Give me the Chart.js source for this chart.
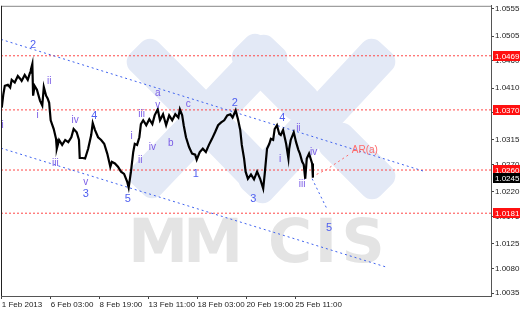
<!DOCTYPE html>
<html>
<head>
<meta charset="utf-8">
<script src="https://cdn.jsdelivr.net/npm/chart.js@4.4.0/dist/chart.umd.min.js"></script>
<style>
  html, body { margin: 0; padding: 0; background: #fff; }
</style>
</head>
<body>
<canvas id="chart" width="520" height="310"></canvas>
<script>
// H1 bars counted from 1 Feb 2013 12:00 (trading hours only)
const barHours = [0,2,4,8,11,13,17,21,24,26,30,34,37,38,40,41,43,46,50,53,55,58,60,62,64,68,71,72,75,79,83,87,91,94,98,101,102,106,109,113,117,119,122,126,130,134,138,142,144,148,152,156,160,164,166,169,172,174,177,180,182,185,189,193,197,200,204,207,211,215,219,223,227,231,233,236,238,241,245,249,253,255,259,263,267,271,275,279,283,287,291,295,299,302,306,309,312,314,317,319,322,326,330,334,338,342,344,347,350,352,355,357,360,363,365,368,372,375,376,378,382,385,388,390,393,395,397,399,402,404,406,407];
const closes = [1.0374,1.0398,1.0414,1.0416,1.0411,1.0425,1.0420,1.0432,1.0427,1.0423,1.0434,1.0425,1.0438,1.0443,1.0454,1.0396,1.0414,1.0407,1.0387,1.0378,1.0412,1.0396,1.0391,1.0383,1.0351,1.0335,1.0317,1.0299,1.0315,1.0306,1.0315,1.0311,1.0320,1.0335,1.0329,1.0315,1.0282,1.0282,1.0281,1.0299,1.0324,1.0346,1.0333,1.0320,1.0315,1.0308,1.0290,1.0266,1.0275,1.0272,1.0266,1.0257,1.0253,1.0239,1.0228,1.0257,1.0293,1.0308,1.0306,1.0320,1.0344,1.0351,1.0342,1.0353,1.0344,1.0360,1.0371,1.0351,1.0362,1.0342,1.0360,1.0351,1.0362,1.0356,1.0371,1.0360,1.0342,1.0320,1.0302,1.0290,1.0288,1.0279,1.0293,1.0299,1.0293,1.0306,1.0317,1.0329,1.0342,1.0347,1.0351,1.0360,1.0362,1.0356,1.0369,1.0353,1.0333,1.0306,1.0281,1.0257,1.0244,1.0252,1.0243,1.0257,1.0244,1.0226,1.0253,1.0299,1.0308,1.0317,1.0315,1.0335,1.0342,1.0326,1.0324,1.0333,1.0308,1.0281,1.0299,1.0315,1.0329,1.0311,1.0297,1.0290,1.0275,1.0270,1.0244,1.0281,1.0290,1.0281,1.0272,1.0246];

const xTickHours = [0, 64, 128, 192, 256, 320, 384];
const xTickLabels = ['1 Feb 2013', '6 Feb 03:00', '8 Feb 19:00', '13 Feb 11:00', '18 Feb 03:00', '20 Feb 19:00', '25 Feb 11:00'];
const yTickLabels = ['1.0555', '1.0505', '1.0460', '1.0410', '1.0365', '1.0315', '1.0270', '1.0220', '1.0175', '1.0125', '1.0080', '1.0035'];

const levels = [1.0469, 1.0370, 1.0260, 1.0181];
const lastPrice = 1.0245;

// channel and projection lines
const upperHours = [-1, 554];
const upperPrices = [1.0499, 1.0257];
const lowerHours = [-1, 504];
const lowerPrices = [1.0300, 1.0082];
const wave5Hours = [406, 425];
const wave5Prices = [1.0244, 1.0190];
const waveAHours = [406, 425, 456];
const waveAPrices = [1.0248, 1.0261, 1.0290];

// Elliott wave marks
const waveText = ['2', 'i', 'i', 'ii', 'iii', 'iv', '4', 'v', '3', '5', 'i', 'ii', 'iii', 'iv', 'v', 'a', 'b', 'c', '1', '2', '3', '4', 'i', 'ii', 'iii', 'iv', '5', 'AR(a)'];
const waveHours = [41, 1, 47, 62, 70, 96, 121, 110, 110, 165, 170, 181, 183, 197, 204, 204, 221, 244, 254, 305, 329, 367, 364, 388, 393, 408, 428, 475];
const wavePrices = [1.0488, 1.0342, 1.0360, 1.0423, 1.0272, 1.0351, 1.0358, 1.0237, 1.0217, 1.0207, 1.0322, 1.0277, 1.0362, 1.0302, 1.0378, 1.0400, 1.0309, 1.0380, 1.0253, 1.0383, 1.0207, 1.0356, 1.0279, 1.0337, 1.0234, 1.0293, 1.0154, 1.0297];

function pairs(xs, ys) {
    return xs.map((x, i) => ({ x: x, y: ys[i] }));
}

// watermark: logo bands and MMCIS lettering
const watermark = {
    id: 'watermark',
    beforeDatasetsDraw(chart) {
        const ctx = chart.ctx;
        ctx.save();
        ctx.fillStyle = '#e3e9f6';
        const bands = [
            [150, 62, 188, 100],
            [152, 175, 264, 58],
            [255, 57, 295, 97],
            [225, 140, 262, 178],
            [262, 180, 372, 62],
            [342, 146, 372, 176]
        ];
        bands.forEach(b => {
            const dx = b[2] - b[0], dy = b[3] - b[1];
            const len = Math.sqrt(dx * dx + dy * dy);
            ctx.save();
            ctx.translate((b[0] + b[2]) / 2, (b[1] + b[3]) / 2);
            ctx.rotate(Math.atan2(dy, dx));
            ctx.beginPath();
            ctx.roundRect(-len / 2 - 20, -20, len + 40, 40, 12);
            ctx.fill();
            ctx.restore();
        });

        ctx.fillStyle = '#e4e4e4';
        ctx.font = 'bold 60px "DejaVu Sans"';
        ctx.textAlign = 'center';
        ctx.textBaseline = 'alphabetic';
        [['M', 158], ['M', 213], ['C', 290], ['I', 326], ['S', 363]].forEach(l => {
            ctx.fillText(l[0], l[1], 262);
        });
        ctx.restore();
    }
};

const overlay = {
    id: 'overlay',
    afterDatasetsDraw(chart) {
        const ctx = chart.ctx;
        const xs = chart.scales.x, ys = chart.scales.y;
        ctx.save();
        ctx.textAlign = 'center';
        ctx.textBaseline = 'middle';
        waveText.forEach((t, i) => {
            const x = xs.getPixelForValue(waveHours[i]);
            const y = ys.getPixelForValue(wavePrices[i]);
            if (t === 'AR(a)') {
                ctx.fillStyle = '#ff6a6a';
                ctx.font = '10px "Liberation Sans"';
            } else if (/^\d$/.test(t)) {
                ctx.fillStyle = '#4f5ff0';
                ctx.font = '11px "Liberation Sans"';
            } else {
                ctx.fillStyle = '#7a5ce6';
                ctx.font = '10px "Liberation Sans"';
            }
            ctx.fillText(t, x, y);
        });
        ctx.restore();
    },
    afterDraw(chart) {
        const ctx = chart.ctx;
        const area = chart.chartArea;
        const ys = chart.scales.y;
        ctx.save();
        // frame
        ctx.strokeStyle = '#888';
        ctx.lineWidth = 1;
        ctx.beginPath();
        ctx.moveTo(area.left, area.top + 0.5);
        ctx.lineTo(area.right, area.top + 0.5);
        ctx.stroke();
        ctx.strokeStyle = '#222';
        ctx.beginPath();
        ctx.moveTo(area.left + 0.5, area.top);
        ctx.lineTo(area.left + 0.5, area.bottom);
        ctx.stroke();

        // price tags on the axis
        ctx.font = '8px "Liberation Sans"';
        ctx.textAlign = 'left';
        ctx.textBaseline = 'middle';
        const tag = (v, bg) => {
            const y = Math.round(ys.getPixelForValue(v));
            ctx.fillStyle = bg;
            ctx.fillRect(area.right + 2, y - 5, 28, 10);
            ctx.fillStyle = '#fff';
            ctx.fillText(v.toFixed(4), area.right + 4, y + 0.5);
        };
        levels.forEach(v => tag(v, '#ff1010'));
        tag(lastPrice, '#000');
        ctx.restore();
    }
};

const datasets = [
    { data: pairs(barHours, closes), borderColor: '#000', borderWidth: 2.2, order: 0 }
];
levels.forEach(v => {
    datasets.push({ data: [{ x: -1, y: v }, { x: 640, y: v }], borderColor: '#ff4848', borderWidth: 1, borderDash: [2, 2], order: 3 });
});
datasets.push({ data: pairs(upperHours, upperPrices), borderColor: '#3f62ee', borderWidth: 1, borderDash: [2, 3], order: 2 });
datasets.push({ data: pairs(lowerHours, lowerPrices), borderColor: '#3f62ee', borderWidth: 1, borderDash: [2, 3], order: 2 });
datasets.push({ data: pairs(wave5Hours, wave5Prices), borderColor: '#3f62ee', borderWidth: 1, borderDash: [2, 3], order: 2 });
datasets.push({ data: pairs(waveAHours, waveAPrices), borderColor: '#ff6a6a', borderWidth: 1, borderDash: [2, 3], order: 2 });

new Chart(document.getElementById('chart'), {
    type: 'line',
    data: { datasets: datasets },
    options: {
        responsive: false,
        animation: false,
        layout: { padding: { left: 1, top: 2, right: 0, bottom: 0 } },
        elements: {
            point: { radius: 0 },
            line: { tension: 0, fill: false }
        },
        plugins: {
            legend: { display: false },
            tooltip: { enabled: false }
        },
        scales: {
            x: {
                type: 'linear',
                min: -1,
                max: 640,
                afterFit: s => { s.height = 14; },
                afterBuildTicks: s => { s.ticks = xTickHours.map(v => ({ value: v })); },
                grid: { drawOnChartArea: false, tickLength: 3, color: '#444' },
                border: { color: '#555' },
                ticks: {
                    autoSkip: false,
                    maxRotation: 0,
                    align: 'start',
                    padding: 1,
                    color: '#222',
                    font: { family: 'Liberation Sans', size: 8 },
                    callback: (v, i) => xTickLabels[i]
                }
            },
            y: {
                type: 'linear',
                position: 'right',
                min: 1.002954,
                max: 1.056042,
                afterFit: s => { s.width = 29; },
                afterBuildTicks: s => { s.ticks = yTickLabels.map(v => ({ value: parseFloat(v) })); },
                grid: { drawOnChartArea: false, tickLength: 3, color: '#444' },
                border: { color: '#555' },
                ticks: {
                    autoSkip: false,
                    padding: 1,
                    color: '#222',
                    font: { family: 'Liberation Sans', size: 8 },
                    callback: (v, i) => yTickLabels[i]
                }
            }
        }
    },
    plugins: [watermark, overlay]
});
</script>
</body>
</html>
